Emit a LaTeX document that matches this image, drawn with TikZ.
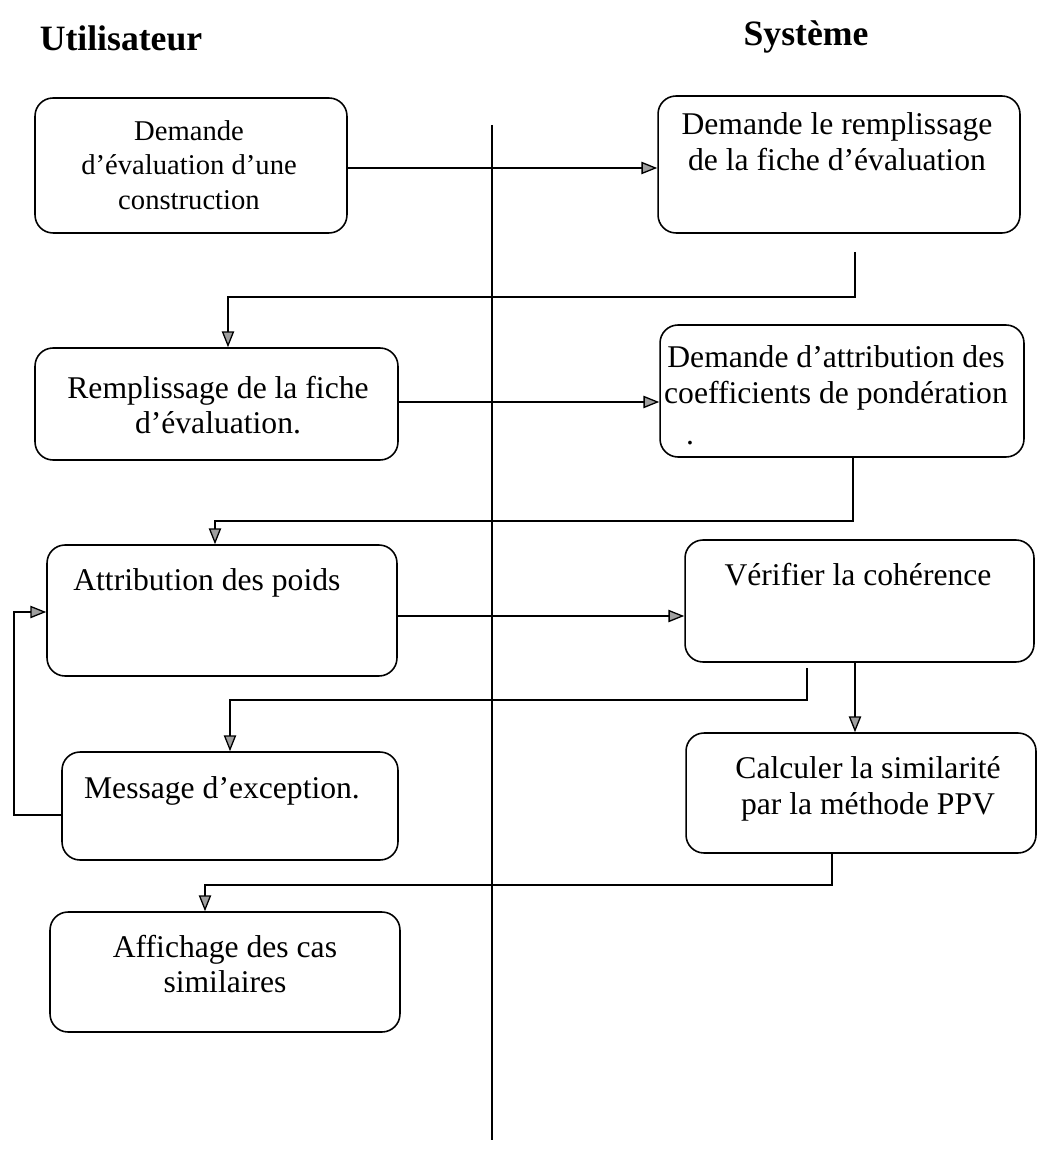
\documentclass[tikz,border=0pt]{standalone}
\usepackage{fontspec}
\setmainfont{Liberation Serif}
\usetikzlibrary{arrows.meta}
\begin{document}
\begin{tikzpicture}[x=0.02cm,y=-0.02cm,
  box/.style={draw, line width=0.9pt, rounded corners=0.36cm, inner sep=0pt},
  txt/.style={inner sep=0pt, align=center, font=\fontsize{18}{20.3}\selectfont},
  smalltxt/.style={inner sep=0pt, align=center, font=\fontsize{16.3}{19.8}\selectfont},
  title/.style={inner sep=0pt, anchor=base, font=\fontsize{20.3}{24}\selectfont\bfseries},
  link/.style={line width=0.75pt},
  flow/.style={line width=0.75pt, -{Triangle[length=9pt,width=7pt,fill=gray!75]}}]
\useasboundingbox (0,0) rectangle (1038,1151);

% lane titles and separator
\node[title] (tu) at (121,51) {Utilisateur};
\node[title] (ts) at (806,46) {Système};
\coordinate (sepTop) at (492,125);
\coordinate (sepBot) at (492,1140);
\draw[link] (sepTop) -- (sepBot);

% activity boxes
\node[box, minimum width=6.24cm, minimum height=2.70cm] (b1) at (191,165.5) {};
\node[box, minimum width=7.24cm, minimum height=2.74cm] (b2) at (839,164.5) {};
\node[box, minimum width=7.26cm, minimum height=2.24cm] (b3) at (216.5,404) {};
\node[box, minimum width=7.28cm, minimum height=2.64cm] (b4) at (842,391) {};
\node[box, minimum width=7.00cm, minimum height=2.62cm] (b5) at (222,610.5) {};
\node[box, minimum width=6.98cm, minimum height=2.44cm] (b6) at (859.5,601) {};
\node[box, minimum width=6.72cm, minimum height=2.16cm] (b7) at (230,806) {};
\node[box, minimum width=7.00cm, minimum height=2.40cm] (b8) at (861,793) {};
\node[box, minimum width=7.00cm, minimum height=2.40cm] (b9) at (225,972) {};

% box texts
\node[smalltxt] (l1) at (189,165) {Demande\\d’évaluation d’une\\construction};
\node[txt] (l2) at (837,142) {Demande le remplissage\\de la fiche d’évaluation};
\node[txt] (l3) at (218,405) {Remplissage de la fiche\\d’évaluation.};
\node[txt] (l4) at (836,378) {Demande d’attribution des\\coefficients de pondération};
\node[txt, anchor=base] (l4dot) at (690,444) {.};
\node[txt, anchor=base west] (l5) at (73,590) {Attribution des poids};
\node[txt, anchor=base] (l6) at (858,585) {Vérifier la cohérence};
\node[txt] (l7) at (222,791) {Message d’exception.};
\node[txt] (l8) at (868,789) {Calculer la similarité\\par la méthode PPV};
\node[txt] (l9) at (225,964) {Affichage des cas\\similaires};

% connectors
\draw[flow] (b1.east |- 0,168) -- (b2.west |- 0,168);

\coordinate (c2s) at (855,252);
\draw[flow] (c2s) -- (855,297) -- (228,297) -- (b3.north -| 228,0);

\draw[flow] (b3.east |- 0,402) -- (b4.west |- 0,402);

\draw[flow] (b4.south -| 853,0) -- (853,521) -- (215,521) -- (b5.north -| 215,0);

\draw[flow] (b5.east |- 0,616) -- (b6.west |- 0,616);

\coordinate (c6s) at (807,668);
\draw[flow] (c6s) -- (807,700) -- (230,700) -- (b7.north -| 230,0);

\draw[flow] (b6.south -| 855,0) -- (b8.north -| 855,0);

\draw[flow] (b7.west |- 0,815) -- (14,815) -- (14,612) -- (b5.west |- 0,612);

\draw[flow] (b8.south -| 832,0) -- (832,885) -- (205,885) -- (b9.north -| 205,0);
\end{tikzpicture}
\end{document}
